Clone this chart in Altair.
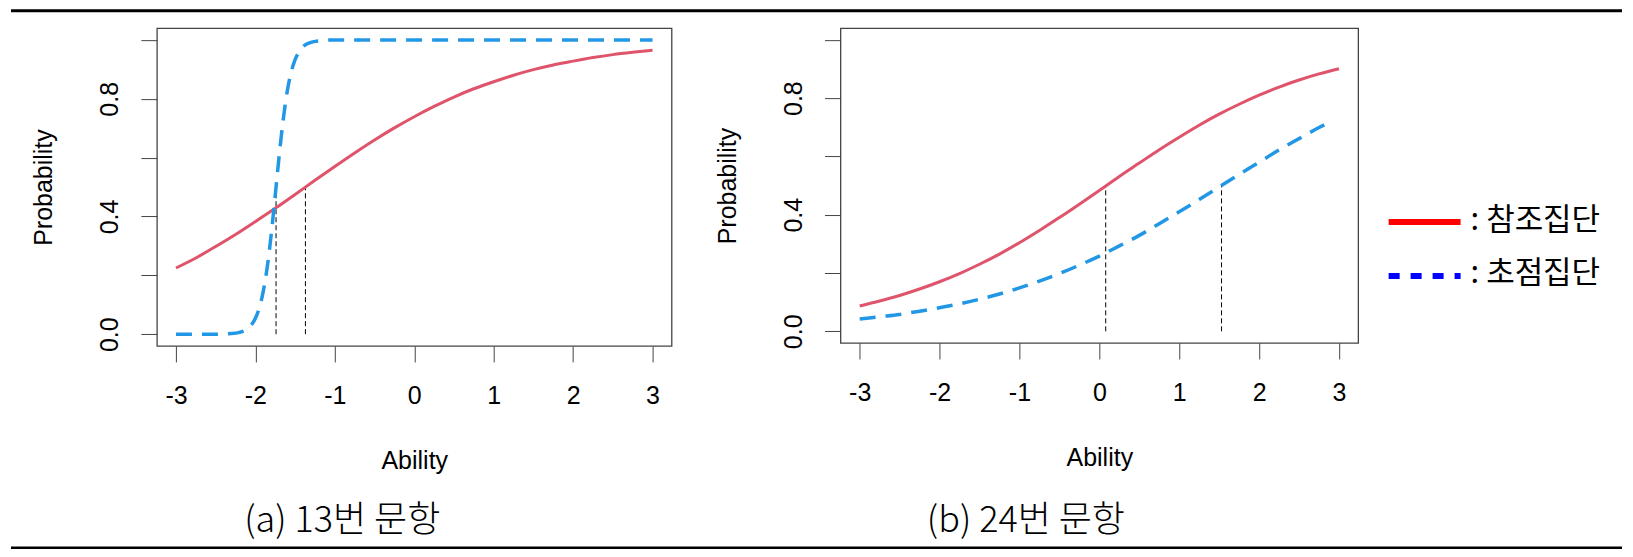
import altair as alt
import pandas as pd

# ---------------- data ----------------
theta = [-3.0, -2.75, -2.5, -2.25, -2.0, -1.75, -1.5, -1.25, -1.0, -0.75, -0.5, -0.25,
         0.0, 0.25, 0.5, 0.75, 1.0, 1.25, 1.5, 1.75, 2.0, 2.25, 2.5, 2.75, 3.0]

# (a) item 13
a_ref_prob = [0.225, 0.259, 0.298, 0.339, 0.383, 0.428, 0.475, 0.523, 0.570, 0.616, 0.660, 0.701,
              0.739, 0.774, 0.806, 0.834, 0.858, 0.880, 0.899, 0.915, 0.928, 0.940, 0.950, 0.958, 0.965]
a_foc_theta = [-3.0, -2.5, -2.3, -2.2, -2.1, -2.0, -1.95, -1.9, -1.85, -1.8, -1.75, -1.7, -1.65,
               -1.6, -1.55, -1.5, -1.45, -1.4, -1.3, -1.2, -1.0, 0.0, 1.0, 2.0, 3.0]
a_foc_prob = [0.0, 0.0, 0.002, 0.006, 0.019, 0.054, 0.090, 0.147, 0.230, 0.341, 0.473, 0.608, 0.729,
              0.824, 0.890, 0.933, 0.960, 0.977, 0.992, 0.997, 1.0, 1.0, 1.0, 1.0, 1.0]
a_vlines = [-1.74, -1.37]

# (b) item 24
b_ref_prob = [0.087, 0.104, 0.123, 0.145, 0.170, 0.198, 0.230, 0.265, 0.304, 0.346, 0.390, 0.436,
              0.483, 0.531, 0.577, 0.623, 0.666, 0.707, 0.745, 0.779, 0.810, 0.838, 0.862, 0.883, 0.901]
b_foc_theta = [-3.0, -2.75, -2.5, -2.25, -2.0, -1.75, -1.5, -1.25, -1.0, -0.75, -0.5, -0.25,
               0.0, 0.25, 0.5, 0.75, 1.0, 1.25, 1.5, 1.75, 2.0, 2.25, 2.5, 2.75, 2.9]
b_foc_prob = [0.042, 0.050, 0.058, 0.069, 0.081, 0.094, 0.110, 0.128, 0.149, 0.172, 0.198, 0.227,
              0.258, 0.293, 0.329, 0.369, 0.410, 0.452, 0.495, 0.538, 0.580, 0.622, 0.661, 0.699, 0.720]
b_vlines = [0.08, 1.53]
vline_top = 0.5

captions = ["(a) 13번 문항", "(b) 24번 문항"]
legend_labels = [": 참조집단", ": 초점집단"]
x_ticks = [-3, -2, -1, 0, 1, 2, 3]
y_ticks = [0.0, 0.2, 0.4, 0.6, 0.8, 1.0]

RED_CURVE = "#DF536B"
BLUE_CURVE = "#2297E6"
LABEL_FONT = "Liberation Sans"
KO_FONT = "Noto Sans CJK KR"

x_axis = alt.Axis(values=x_ticks, title="Ability", labelPadding=22, labelFlush=False,
                  labelExpr="datum.value < 0 ? '-' + abs(datum.value) : '' + datum.value",
                  titleY=114.5, titleBaseline="middle")
y_axis = alt.Axis(values=y_ticks, title="Probability", labelAngle=270, labelAlign="center",
                  labelBaseline="alphabetic", labelPadding=23,
                  labelExpr="(round(datum.value * 10) % 4 == 0) ? format(datum.value, '.1f') : ''",
                  titleAngle=270, titleX=-113, titleBaseline="middle")
xs = alt.Scale(domain=[-3.24, 3.24], nice=False, zero=False)
ys = alt.Scale(domain=[-0.04, 1.04], nice=False, zero=False)


def panel(ref_theta, ref_prob, foc_theta, foc_prob, vlines, caption, width, height, extra=None):
    ref = pd.DataFrame({"Ability": ref_theta, "Probability": ref_prob})
    foc = pd.DataFrame({"Ability": foc_theta, "Probability": foc_prob})
    vl = pd.DataFrame({"Ability": vlines, "lo": [0.0] * len(vlines), "hi": [vline_top] * len(vlines)})
    ref_line = alt.Chart(ref).mark_line(color=RED_CURVE, strokeWidth=3, interpolate="monotone").encode(
        x=alt.X("Ability:Q", scale=xs, axis=x_axis),
        y=alt.Y("Probability:Q", scale=ys, axis=y_axis),
    )
    foc_line = alt.Chart(foc).mark_line(color=BLUE_CURVE, strokeWidth=3.5, strokeDash=[16, 10],
                                        interpolate="monotone").encode(
        x="Ability:Q", y="Probability:Q")
    vrule = alt.Chart(vl).mark_rule(color="black", strokeWidth=1, strokeDash=[5, 3]).encode(
        x="Ability:Q", y="lo:Q", y2="hi:Q")
    cap = alt.Chart(pd.DataFrame({"caption": [caption]})).mark_text(
        font=KO_FONT, fontSize=36, fontWeight=300, align="center", baseline="middle",
        color="black").encode(
        x=alt.value(185.5), y=alt.value(493), text="caption:N")
    layers = [vrule, ref_line, foc_line, cap] + (extra or [])
    return alt.layer(*layers).properties(width=width, height=height)


one = pd.DataFrame({"k": [0]})

# page separator lines, placed relative to panel (a)
extra_a = [
    alt.Chart(one).mark_rule(color="black", strokeWidth=3).encode(
        x=alt.value(-146), x2=alt.value(1466), y=alt.value(-17.5)),
    alt.Chart(one).mark_rule(color="black", strokeWidth=2.5).encode(
        x=alt.value(-146), x2=alt.value(1466), y=alt.value(520)),
]

# hand-drawn legend, placed relative to panel (b)
extra_b = [
    alt.Chart(one).mark_rule(color="#FF0000", strokeWidth=6).encode(
        x=alt.value(548.5), x2=alt.value(620.5), y=alt.value(194)),
    alt.Chart(one).mark_rule(color="#0000FF", strokeWidth=6, strokeDash=[11, 11]).encode(
        x=alt.value(548.5), x2=alt.value(620.5), y=alt.value(248)),
    alt.Chart(pd.DataFrame({"lab": [legend_labels[0]]})).mark_text(
        font=KO_FONT, fontSize=31, align="left", baseline="middle", color="black").encode(
        x=alt.value(630.5), y=alt.value(193), text="lab:N"),
    alt.Chart(pd.DataFrame({"lab": [legend_labels[1]]})).mark_text(
        font=KO_FONT, fontSize=31, align="left", baseline="middle", color="black").encode(
        x=alt.value(630.5), y=alt.value(246), text="lab:N"),
]

panel_a = panel(theta, a_ref_prob, a_foc_theta, a_foc_prob, a_vlines, captions[0], 515, 318, extra_a)
panel_b = panel(theta, b_ref_prob, b_foc_theta, b_foc_prob, b_vlines, captions[1], 518, 315, extra_b)

chart = alt.hconcat(panel_a, panel_b, spacing=169, bounds="flush", padding=0).configure_view(
    stroke="#444444", strokeWidth=1.3
).configure_axis(
    grid=False, domain=False, tickColor="#444444", tickSize=16, tickWidth=1,
    labelFont=LABEL_FONT, labelFontSize=25, labelColor="black",
    titleFont=LABEL_FONT, titleFontSize=25, titleFontWeight="normal", titleColor="black",
)

chart.save("out.html", embed_options={"renderer": "svg", "actions": False})
